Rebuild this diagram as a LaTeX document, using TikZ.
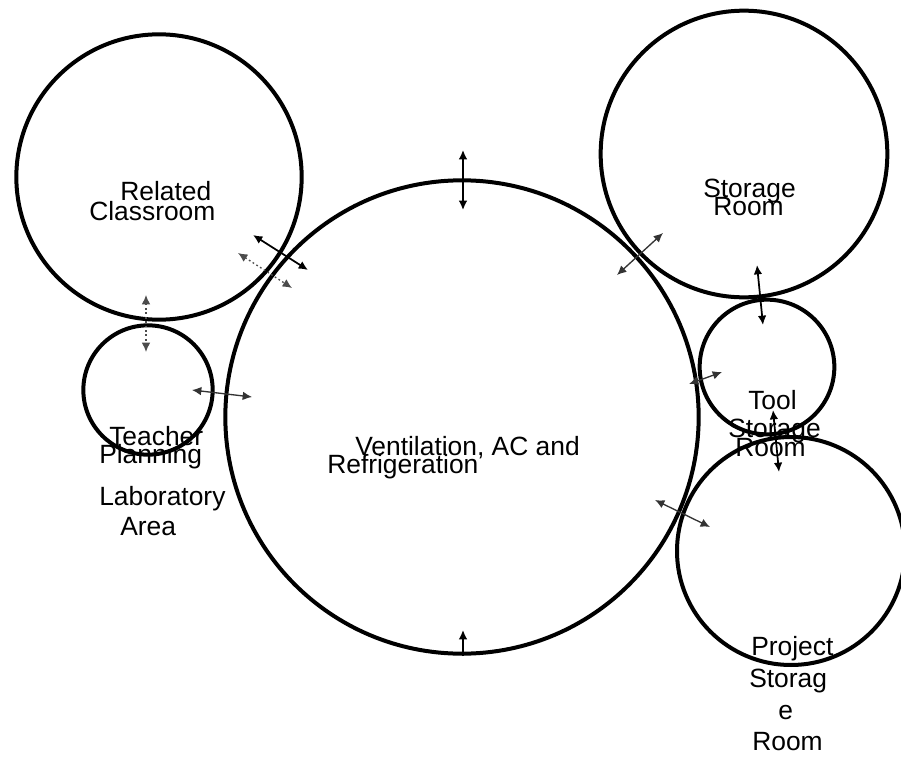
\documentclass[tikz,border=0pt]{standalone}
\usepackage{fontspec}
\setmainfont{Liberation Sans}
\usetikzlibrary{arrows.meta}

\begin{document}
\begin{tikzpicture}[x=0.75pt,y=-0.75pt]
\clip (0,0) rectangle (901,757);
\begin{scope}[every node/.style={circle,draw,line width=3pt,inner sep=0pt}]
    \node (V)[minimum size=355pt] at (462,417) {};
    \node (R)[minimum size=214pt] at (159,177) {};
    \node (T)[minimum size=97pt] at (148,390) {};
    \node (S)[minimum size=215pt] at (744,154) {};
    \node (TS)[minimum size=101pt] at (767,367) {};
    \node (P)[minimum size=171pt] at (791,551) {};
\end{scope}

\begin{scope}[every node/.style={anchor=base west,inner sep=0pt,
              font=\fontsize{19.8}{20}\selectfont}]
    \node (R1) at (120,200) {Related};
    \node (R2) at (89,220) {Classroom};
    \node (S1) at (703,197) {Storage};
    \node (S2) at (713,215) {Room};
    \node (V1) at (355,455) {Ventilation, AC and};
    \node (V2) at (327,473) {Refrigeration};
    \node (T1) at (109,445) {Teacher};
    \node (T2) at (99,463) {Planning};
    \node (L1) at (99,505) {Laboratory};
    \node (L2) at (120,535) {Area};
    \node (TS1) at (748,409) {Tool};
    \node (TS2) at (728,437) {Storage};
    \node (TS3) at (735,456) {Room};
    \node (P1) at (751,655) {Project};
    \node (P2) at (749,687) {Storag};
    \node (P3) at (778,719) {e};
    \node (P4) at (752,750) {Room};
\end{scope}

% arrow ends
\coordinate (a1) at (463,150);  \coordinate (a2) at (463,210);
\coordinate (b1) at (463,656);  \coordinate (b2) at (463,630);
\coordinate (c1) at (253,235);  \coordinate (c2) at (308,270);
\coordinate (d1) at (238,253);  \coordinate (d2) at (292,288);
\coordinate (e1) at (146,295);  \coordinate (e2) at (146,352);
\coordinate (f1) at (192,390);  \coordinate (f2) at (252,397);
\coordinate (g1) at (617,275);  \coordinate (g2) at (663,233);
\coordinate (h1) at (689,384);  \coordinate (h2) at (722,372);
\coordinate (i1) at (757,265);  \coordinate (i2) at (763,325);
\coordinate (j1) at (773,410);  \coordinate (j2) at (779,472);
\coordinate (k1) at (655,500);  \coordinate (k2) at (710,527);

\begin{scope}[
              every edge/.style={draw=black,line width=1.3pt,
              {Latex[length=7pt,width=6.5pt]}-{Latex[length=7pt,width=6.5pt]}}]
    \path  (a1) edge (a2);
    \path  (b1) edge[-{Latex[length=7pt,width=6.5pt]}] (b2);
    \path  (c1) edge (c2);
    \path  (d1) edge[dotted,draw=black!70,line width=1pt] (d2);
    \path  (e1) edge[dotted,draw=black!70,line width=1pt] (e2);
    \path  (f1) edge[draw=black!80,line width=1pt] (f2);
    \path  (g1) edge[draw=black!80,line width=1pt] (g2);
    \path  (h1) edge[draw=black!80,line width=1pt] (h2);
    \path  (i1) edge (i2);
    \path  (j1) edge (j2);
    \path  (k1) edge[draw=black!80,line width=1pt] (k2);
\end{scope}
\end{tikzpicture}
\end{document}
